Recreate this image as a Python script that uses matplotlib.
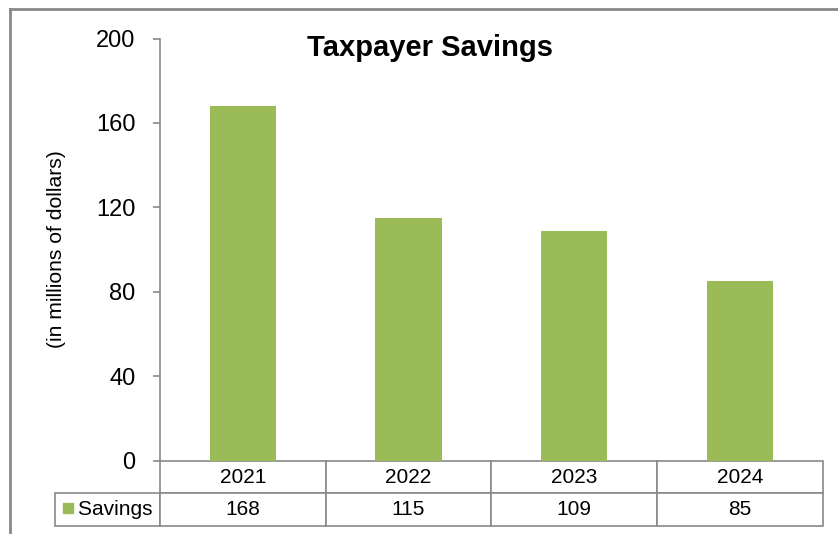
import matplotlib
matplotlib.use("agg")
import matplotlib.pyplot as plt
from matplotlib.lines import Line2D
from matplotlib.patches import Rectangle
from matplotlib.table import Table

years = ["2021", "2022", "2023", "2024"]
savings = [168, 115, 109, 85]
series_name = "Savings"
yticks = [0, 40, 80, 120, 160, 200]

green = "#9BBB59"
grid_gray = "#898989"

plt.rcParams["font.family"] = ["Liberation Sans", "DejaVu Sans"]

W, H = 838, 534
fig = plt.figure(figsize=(W / 100, H / 100), dpi=100)

# axes placement in pixels (left, top, right, bottom)
l, t, r, b = 160, 38.5, 822.7, 460.7
ax = fig.add_axes([l / W, 1 - b / H, (r - l) / W, (b - t) / H])

x = range(len(years))
ax.bar(x, savings, width=0.4, color=green, zorder=2)
ax.set_xlim(-0.5, len(years) - 0.5)
ax.set_ylim(0, 200)
ax.set_yticks(yticks)
ax.tick_params(axis="y", labelsize=17, length=5.3, width=1.2, color=grid_gray, pad=12.5)
ax.set_xticks([])
for s in ["top", "right", "bottom"]:
    ax.spines[s].set_visible(False)
ax.spines["left"].set_color(grid_gray)
ax.spines["left"].set_linewidth(1.2)

# data table under the plot (axes coords)
row_h = (526 - b) / 2 / (b - t)
col_w = 1 / len(years)
lab_w = (l - 55) / (r - l)
tbl = Table(ax, bbox=[0, -2 * row_h, 1, 2 * row_h])
for i, yr in enumerate(years):
    tbl.add_cell(0, i, col_w, row_h, text=yr, loc="center")
    tbl.add_cell(1, i, col_w, row_h, text=str(savings[i]), loc="center")
tbl.add_cell(1, -1, lab_w, row_h, text="    " + series_name, loc="left")
tbl.auto_set_font_size(False)
for (row, col), cell in tbl.get_celld().items():
    cell.set_edgecolor(grid_gray)
    cell.set_linewidth(1.2)
    cell.get_text().set_fontsize(15)
    if col == -1:
        cell.PAD = 0.0
tbl.set_clip_on(False)
ax.add_table(tbl)

# legend key square in the row label cell
fig.patches.append(Rectangle((62.7 / W, 1 - 513.3 / H), 10 / W, 10.6 / H,
                             transform=fig.transFigure, color=green))

fig.text(430 / W, 1 - 48 / H, "Taxpayer Savings", fontsize=21, fontweight="bold",
         ha="center", va="center")
fig.text(57 / W, 1 - 249 / H, "(in millions of dollars)", fontsize=15.2,
         rotation=90, ha="center", va="center")

# outer chart border
fig.lines.append(Line2D([10 / W, 10 / W], [0, 1 - 8.5 / H], transform=fig.transFigure,
                        color=grid_gray, lw=2))
fig.lines.append(Line2D([10 / W, 1], [1 - 8.5 / H, 1 - 8.5 / H], transform=fig.transFigure,
                        color=grid_gray, lw=2))

fig.savefig("out.png", dpi=100)
